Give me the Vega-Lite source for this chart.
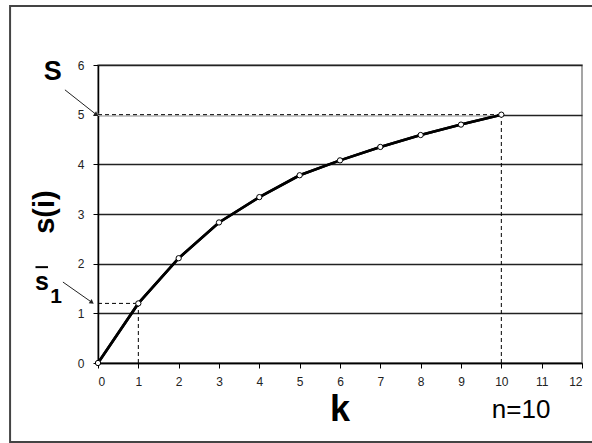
{
  "$schema": "https://vega.github.io/schema/vega-lite/v6.json",
  "width": 484,
  "height": 298,
  "autosize": {"type": "none"},
  "padding": {"left": 98, "top": 65, "right": 10, "bottom": 80},
  "background": "white",
  "config": {
    "view": {"stroke": "#888888", "strokeWidth": 1.5},
    "font": "Liberation Sans",
    "axis": {"labelFont": "Liberation Sans", "labelFontSize": 11, "labelColor": "#222", "title": null}
  },
  "datasets": {
    "curve": [
      {"k": 0, "s": 0}, {"k": 1, "s": 1.2}, {"k": 2, "s": 2.11}, {"k": 3, "s": 2.83},
      {"k": 4, "s": 3.34}, {"k": 5, "s": 3.78}, {"k": 6, "s": 4.08}, {"k": 7, "s": 4.35},
      {"k": 8, "s": 4.59}, {"k": 9, "s": 4.8}, {"k": 10, "s": 5.0}
    ],
    "dashes": [
      {"x": 0, "y": 5, "x2": 10, "y2": 5},
      {"x": 10, "y": 0, "x2": 10, "y2": 5},
      {"x": 0, "y": 1.2, "x2": 1, "y2": 1.2},
      {"x": 1, "y": 0, "x2": 1, "y2": 1.2}
    ],
    "arrows": [
      {"x": -0.82, "y": 5.5, "x2": -0.04, "y2": 5.0, "a": 36},
      {"x": -0.87, "y": 1.63, "x2": -0.15, "y2": 1.22, "a": 35}
    ],
    "boldlabels": [
      {"x": -1.12, "y": 5.86, "t": "S", "size": 27, "ang": 0},
      {"x": -1.31, "y": 3.04, "t": "s(i)", "size": 29, "ang": 270},
      {"x": -1.39, "y": 1.63, "t": "s", "size": 25, "ang": 0},
      {"x": -1.04, "y": 1.33, "t": "1", "size": 21, "ang": 0},
      {"x": 6.0, "y": -0.95, "t": "k", "size": 36, "ang": 0}
    ],
    "plainlabels": [
      {"x": 10.49, "y": -0.95, "t": "n=10", "size": 26, "ang": 0}
    ],
    "frame": [{"x": -2.18, "x2": 12.6, "y": -1.59, "y2": 7.19}],
    "bar": [{"x": -1.55, "x2": -1.24, "y": 1.91, "y2": 1.95}]
  },
  "layer": [
    {
      "data": {"name": "frame"},
      "mark": {"type": "rect", "fill": null, "stroke": "#444", "strokeWidth": 2, "clip": false},
      "encoding": {
        "x": {"field": "x", "type": "quantitative", "scale": {"domain": [0, 12]}},
        "x2": {"field": "x2"},
        "y": {"field": "y", "type": "quantitative", "scale": {"domain": [0, 6]}},
        "y2": {"field": "y2"}
      }
    },
    {
      "data": {"name": "curve"},
      "mark": {"type": "line", "color": "black", "strokeWidth": 2.6},
      "encoding": {
        "x": {"field": "k", "type": "quantitative",
          "scale": {"domain": [0, 12], "nice": false},
          "axis": {"values": [0,1,2,3,4,5,6,7,8,9,10,11,12], "grid": false, "domainColor": "black", "domainWidth": 1.5, "tickColor": "black", "tickSize": 5, "tickWidth": 1, "labelPadding": 8, "labelFontSize": 12}},
        "y": {"field": "s", "type": "quantitative",
          "scale": {"domain": [0, 6], "nice": false},
          "axis": {"values": [0,1,2,3,4,5,6], "grid": true, "gridColor": "#222", "gridWidth": 1.3, "domainColor": "black", "domainWidth": 1.5, "tickColor": "black", "tickSize": 5, "tickWidth": 1, "labelPadding": 9, "labelFontSize": 12}}
      }
    },
    {
      "data": {"name": "dashes"},
      "mark": {"type": "rule", "color": "white", "strokeWidth": 2},
      "transform": [{"filter": "datum.y == 5 && datum.y2 == 5"}],
      "encoding": {
        "x": {"field": "x", "type": "quantitative"},
        "x2": {"field": "x2"},
        "y": {"field": "y", "type": "quantitative"},
        "y2": {"field": "y2"}
      }
    },
    {
      "data": {"name": "dashes"},
      "mark": {"type": "rule", "color": "black", "strokeWidth": 1, "strokeDash": [4, 3]},
      "encoding": {
        "x": {"field": "x", "type": "quantitative"},
        "x2": {"field": "x2"},
        "y": {"field": "y", "type": "quantitative"},
        "y2": {"field": "y2"}
      }
    },
    {
      "data": {"name": "curve"},
      "mark": {"type": "line", "color": "black", "strokeWidth": 2.6},
      "encoding": {
        "x": {"field": "k", "type": "quantitative"},
        "y": {"field": "s", "type": "quantitative"}
      }
    },
    {
      "data": {"name": "curve"},
      "mark": {"type": "point", "shape": "circle", "filled": true, "fill": "white", "stroke": "black", "strokeWidth": 1, "size": 28, "opacity": 1},
      "encoding": {
        "x": {"field": "k", "type": "quantitative"},
        "y": {"field": "s", "type": "quantitative"}
      }
    },
    {
      "data": {"name": "arrows"},
      "mark": {"type": "rule", "color": "#222", "strokeWidth": 1, "clip": false},
      "encoding": {
        "x": {"field": "x", "type": "quantitative"},
        "x2": {"field": "x2"},
        "y": {"field": "y", "type": "quantitative"},
        "y2": {"field": "y2"}
      }
    },
    {
      "data": {"name": "arrows"},
      "mark": {"type": "point", "shape": "triangle-right", "filled": true, "color": "#222", "size": 25, "opacity": 1, "clip": false},
      "encoding": {
        "x": {"field": "x2", "type": "quantitative"},
        "y": {"field": "y2", "type": "quantitative"},
        "angle": {"field": "a", "type": "quantitative", "scale": null}
      }
    },
    {
      "data": {"name": "boldlabels"},
      "mark": {"type": "text", "color": "black", "align": "center", "baseline": "middle", "fontWeight": "bold", "font": "Liberation Sans", "clip": false},
      "encoding": {
        "x": {"field": "x", "type": "quantitative"},
        "y": {"field": "y", "type": "quantitative"},
        "text": {"field": "t"},
        "size": {"field": "size", "type": "quantitative", "scale": null},
        "angle": {"field": "ang", "type": "quantitative", "scale": null}
      }
    },
    {
      "data": {"name": "plainlabels"},
      "mark": {"type": "text", "color": "black", "align": "center", "baseline": "middle", "fontWeight": "normal", "font": "Liberation Sans", "clip": false},
      "encoding": {
        "x": {"field": "x", "type": "quantitative"},
        "y": {"field": "y", "type": "quantitative"},
        "text": {"field": "t"},
        "size": {"field": "size", "type": "quantitative", "scale": null}
      }
    },
    {
      "data": {"name": "bar"},
      "mark": {"type": "rect", "color": "black", "clip": false},
      "encoding": {
        "x": {"field": "x", "type": "quantitative"},
        "x2": {"field": "x2"},
        "y": {"field": "y", "type": "quantitative"},
        "y2": {"field": "y2"}
      }
    }
  ]
}
